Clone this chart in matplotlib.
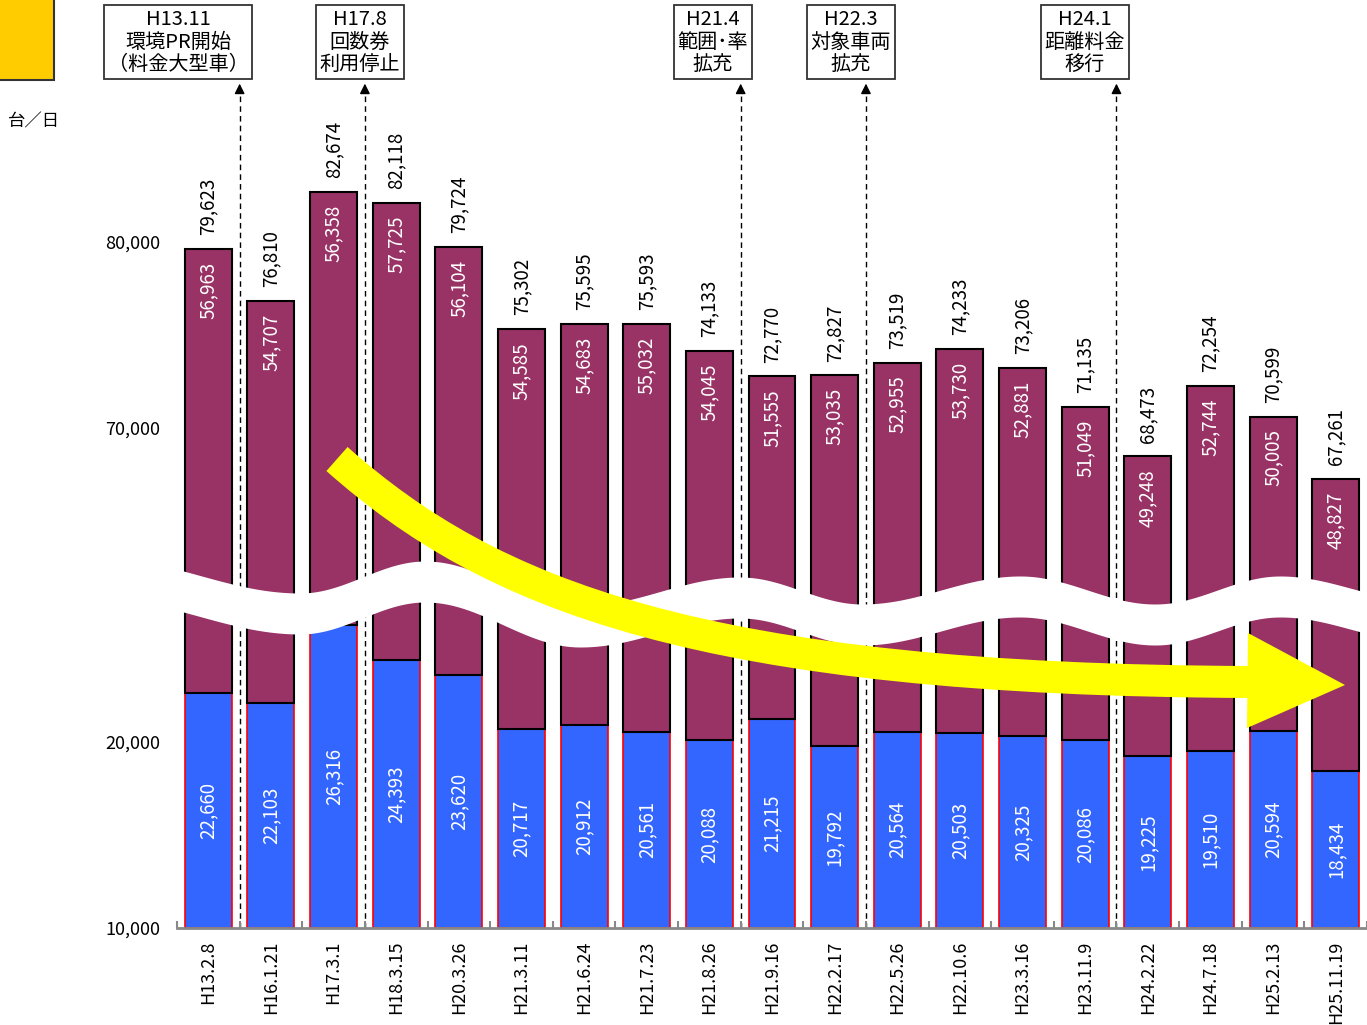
import numpy as np
import matplotlib
matplotlib.use("Agg")
import matplotlib.pyplot as plt
from matplotlib.patches import Rectangle, Polygon, PathPatch
from matplotlib.path import Path

plt.rcParams['font.family'] = ['Noto Sans CJK JP', 'DejaVu Sans']

# data
dates = ['H13.2.8', 'H16.1.21', 'H17.3.1', 'H18.3.15', 'H20.3.26', 'H21.3.11',
         'H21.6.24', 'H21.7.23', 'H21.8.26', 'H21.9.16', 'H22.2.17', 'H22.5.26',
         'H22.10.6', 'H23.3.16', 'H23.11.9', 'H24.2.22', 'H24.7.18', 'H25.2.13',
         'H25.11.19']
lower = [22660, 22103, 26316, 24393, 23620, 20717, 20912, 20561, 20088, 21215,
         19792, 20564, 20503, 20325, 20086, 19225, 19510, 20594, 18434]
upper = [56963, 54707, 56358, 57725, 56104, 54585, 54683, 55032, 54045, 51555,
         53035, 52955, 53730, 52881, 51049, 49248, 52744, 50005, 48827]
total = [79623, 76810, 82674, 82118, 79724, 75302, 75595, 75593, 74133, 72770,
         72827, 73519, 74233, 73206, 71135, 68473, 72254, 70599, 67261]
yticks = [10000, 20000, 70000, 80000]

events = ['H13.11\n環境PR開始\n（料金大型車）', 'H17.8\n回数券\n利用停止',
          'H21.4\n範囲･率\n拡充', 'H22.3\n対象車両\n拡充', 'H24.1\n距離料金\n移行']
event_after = [0, 2, 8, 10, 14]   # event falls between bar i and i+1

# layout
box_x = [178, 360, 713, 851, 1085]   # pixel centres of the note boxes
Y0 = 10000
SHIFT = 33118          # values above the break are drawn shifted down by this
W, H = 1367, 1025
BLUE = '#3366FF'
MAROON = '#993366'


def shown(v):
    return v - SHIFT if v > 40000 else v


fig = plt.figure(figsize=(W / 100, H / 100), dpi=100)
ax = fig.add_axes([177 / W, 97 / H, 1190 / W, 928 / H])
x = np.arange(len(dates))
tops = np.array([shown(t) for t in total])
low = np.array(lower)

ax.bar(x, low - Y0, bottom=Y0, width=0.75, color=BLUE, edgecolor='red', linewidth=1.2, zorder=2)
ax.bar(x, tops - low, bottom=low, width=0.75, color=MAROON, edgecolor='black', linewidth=1.5, zorder=2)

for i in range(len(dates)):
    ax.annotate(f'{total[i]:,}', (x[i], tops[i]), xytext=(0, 10), textcoords='offset points',
                rotation=90, ha='center', va='bottom', fontsize=13.5)
    ax.annotate(f'{upper[i]:,}', (x[i], tops[i]), xytext=(0, -9), textcoords='offset points',
                rotation=90, ha='center', va='top', fontsize=13.5, color='white', zorder=3)
    ax.text(x[i], (Y0 + lower[i]) / 2, f'{lower[i]:,}', rotation=90, ha='center',
            va='center', fontsize=13.5, color='white', zorder=3)

ax.set_xlim(-0.5, len(dates) - 0.5)
ax.set_ylim(Y0, Y0 + 928 / 18.6 * 1000)
ax.set_yticks([shown(v) for v in yticks])
ax.set_yticklabels([f'{v:,}' for v in yticks], fontsize=13)
ax.tick_params(axis='y', length=0, pad=12)
ax.set_xticks(x)
ax.set_xticklabels(dates, rotation=90, fontsize=13)
ax.tick_params(axis='x', length=0, pad=9)
ax.set_xticks(np.arange(-0.5, len(dates)), minor=True)
ax.tick_params(axis='x', which='minor', direction='in', length=5, color='#888888', width=1.5)
for s in ['left', 'right', 'top']:
    ax.spines[s].set_visible(False)
ax.spines['bottom'].set_color('#888888')
ax.spines['bottom'].set_linewidth(2)

# dashed event lines with arrowheads
ytop = Y0 + (928 - 92) / 18.6 * 1000
for e in event_after:
    ax.plot([e + 0.5, e + 0.5], [Y0, ytop], color='black', linestyle=(0, (4, 3)),
            linewidth=1, zorder=1, clip_on=False)
    ax.annotate('', xy=(e + 0.5, ytop + 600), xytext=(e + 0.5, ytop - 10),
                arrowprops=dict(arrowstyle='-|>,head_length=0.6,head_width=0.3',
                                color='black', lw=1), annotation_clip=False)

# overlay in pixel units for the decorations
ov = fig.add_axes([0, 0, 1, 1])
ov.set_xlim(0, W)
ov.set_ylim(H, 0)
ov.axis('off')
ov.patch.set_alpha(0)

# wavy break band
ext_x = [100, 300, 425, 580, 740, 862, 1020, 1155, 1280, 1420]
ext_y = [558, 593, 561, 606, 577, 604, 576, 604, 576, 600]
px = np.linspace(170, W, 600)
top_edge = np.empty_like(px)
for k in range(len(ext_x) - 1):
    m = (px >= ext_x[k]) & (px <= ext_x[k + 1])
    t = (px[m] - ext_x[k]) / (ext_x[k + 1] - ext_x[k])
    top_edge[m] = ext_y[k] + (ext_y[k + 1] - ext_y[k]) * (1 - np.cos(np.pi * t)) / 2
ov.fill_between(px, top_edge, top_edge + 41, color='white', zorder=2, linewidth=0)

# yellow arrow
curve = Path([(337, 459), (490, 595), (700, 680), (1252, 682)],
             [Path.MOVETO, Path.CURVE4, Path.CURVE4, Path.CURVE4])
ov.add_patch(PathPatch(curve, facecolor='none', edgecolor='#FFFF00', linewidth=32 * 0.72,
                       capstyle='butt', zorder=3))
ov.add_patch(Polygon([(1248, 633), (1345, 685), (1247, 728)], closed=True,
                     facecolor='#FFFF00', edgecolor='none', zorder=3))

# event notes
for bx, txt in zip(box_x, events):
    ov.text(bx, 42, txt, ha='center', va='center', fontsize=14.5, linespacing=1.08, zorder=4,
            bbox=dict(boxstyle='square,pad=0.2', facecolor='white', edgecolor='#333333', linewidth=1.3))

ov.add_patch(Rectangle((-5, -5), 59, 85, facecolor='#FFCC00', edgecolor='#333333', linewidth=1.5))
ov.text(8, 121, '台／日', ha='left', va='center', fontsize=12.5)

fig.savefig('out.png', dpi=100)
